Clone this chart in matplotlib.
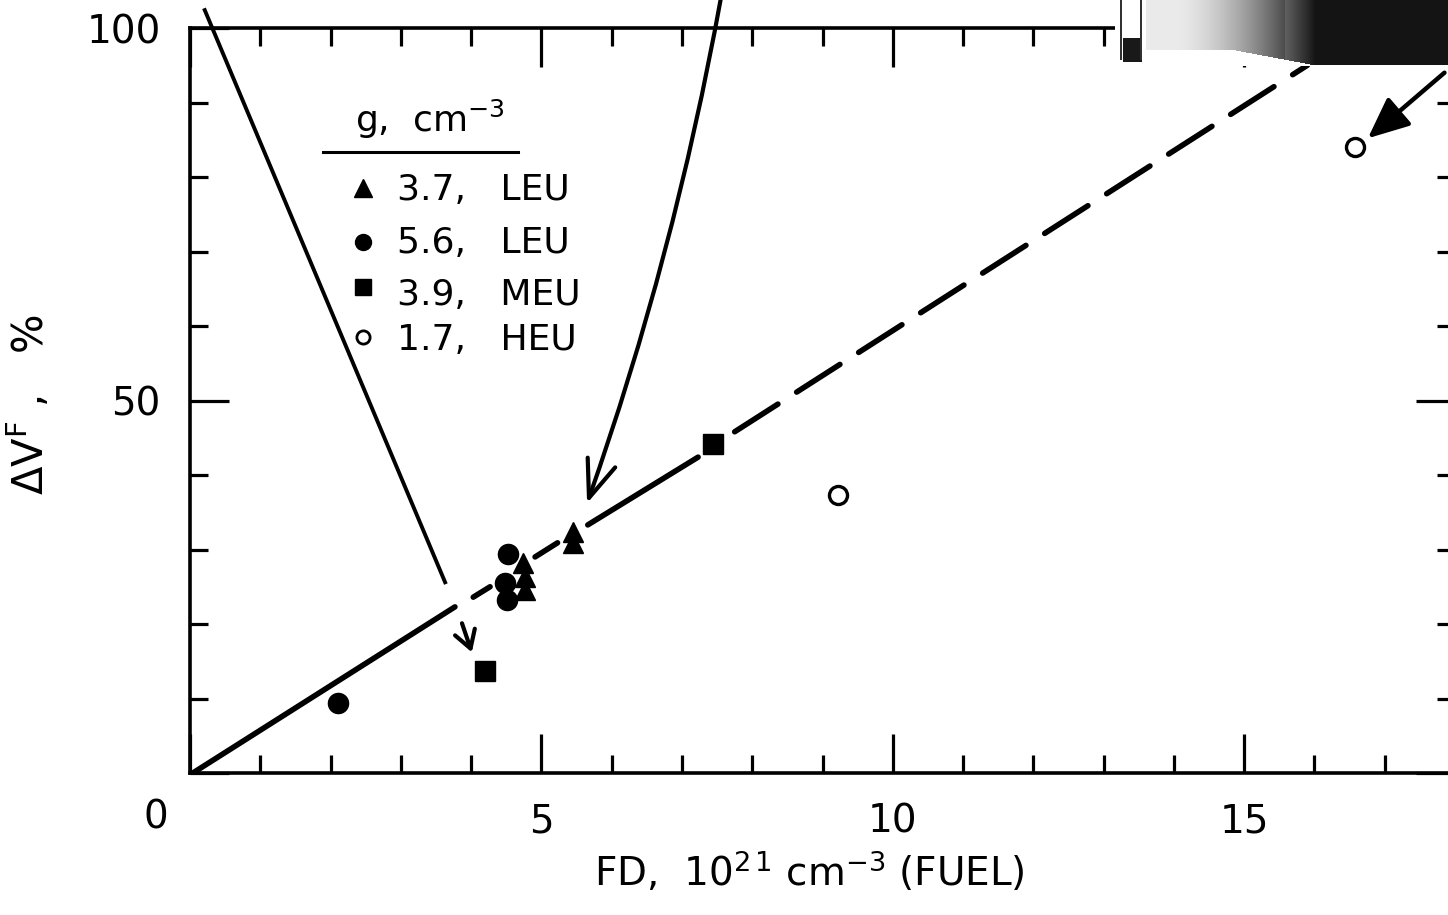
import matplotlib
matplotlib.use("Agg")
import matplotlib.pyplot as plt
import numpy as np
from matplotlib.ticker import MultipleLocator, FuncFormatter

plt.rcParams['font.family'] = 'DejaVu Sans'
plt.rcParams['mathtext.default'] = 'regular'
plt.rcParams['lines.scale_dashes'] = False

# fission density (1e21 cm^-3, fuel) vs fuel swelling dV/V (%)
leu37_fd = [4.74, 4.77, 4.77, 5.45, 5.45]
leu37_dv = [28.2, 26.3, 24.6, 32.3, 30.9]
leu56_fd = [2.11, 4.52, 4.48, 4.51]
leu56_dv = [9.4, 29.4, 25.5, 23.2]
meu39_fd = [4.20, 7.44]
meu39_dv = [13.7, 44.2]
heu17_fd = [9.22, 16.57]
heu17_dv = [37.3, 84.0]

legend_labels = ["3.7,   LEU", "5.6,   LEU", "3.9,   MEU", "1.7,   HEU"]

# trend line, broken where it passes the points: (x0, y0, x1, y1)
fit_solid = [(0.04, 0.0, 3.77, 22.3), (4.03, 23.6, 4.27, 25.0),
             (4.91, 29.0, 5.23, 30.9), (5.66, 33.3, 7.23, 42.4)]
fit_dashed = (7.75, 45.8, 15.9, 95.0)

fig = plt.figure(figsize=(14.48, 9.15), dpi=100)
ax = fig.add_axes([190 / 1448, 142 / 915, 1265 / 1448, 745 / 915])
ax.set_xlim(0, 18)
ax.set_ylim(0, 100)

for x0, y0, x1, y1 in fit_solid:
    ax.plot([x0, x1], [y0, y1], color='k', lw=4, solid_capstyle='round', zorder=2)
x0, y0, x1, y1 = fit_dashed
ax.plot([x0, x1], [y0, y1], color='k', lw=4, dashes=(37, 16),
        dash_capstyle='round', zorder=2)

ax.plot(leu37_fd, leu37_dv, '^', color='k', ms=15, ls='none', zorder=4)
ax.plot(leu56_fd, leu56_dv, 'o', color='k', ms=14.5, ls='none', zorder=4)
ax.plot(meu39_fd, meu39_dv, 's', color='k', ms=14, ls='none', zorder=4)
ax.plot(heu17_fd, heu17_dv, 'o', mfc='white', mec='k', mew=2.4, ms=13,
        ls='none', zorder=4)

# pointer lines
ax.plot([0.21, 3.63], [102.4, 25.6], color='k', lw=2.8, clip_on=False, zorder=3)
ax.annotate('', xy=(4.01, 16.2), xytext=(3.87, 20.1), annotation_clip=False,
            arrowprops=dict(arrowstyle='->,head_length=0.5,head_width=0.3',
                            lw=3, color='k', shrinkA=0, shrinkB=0, mutation_scale=25))
ax.annotate('', xy=(5.65, 36.2), xytext=(7.55, 103.8), annotation_clip=False,
            arrowprops=dict(arrowstyle='->,head_length=0.9,head_width=0.35',
                            lw=3, color='k', shrinkA=0, shrinkB=0, mutation_scale=30,
                            connectionstyle='arc3,rad=-0.04'))
ax.annotate('', xy=(16.76, 85.2), xytext=(17.85, 94.0), annotation_clip=False,
            arrowprops=dict(arrowstyle='-|>,head_length=0.9,head_width=0.4',
                            lw=3.2, color='k', shrinkA=0, shrinkB=0, mutation_scale=28))

# axes styling
for sp in ax.spines.values():
    sp.set_linewidth(2.6)
ax.xaxis.set_major_locator(MultipleLocator(5))
ax.xaxis.set_minor_locator(MultipleLocator(1))
ax.yaxis.set_major_locator(MultipleLocator(50))
ax.yaxis.set_minor_locator(MultipleLocator(10))
ax.tick_params(which='both', direction='in', top=True, right=True, width=2.3)
ax.tick_params(which='major', length=28, labelsize=28)
ax.tick_params(which='minor', length=13)
ax.tick_params(axis='x', pad=21)
ax.tick_params(axis='y', pad=21)
hide_zero = FuncFormatter(lambda v, p: '' if v == 0 else f'{v:g}')
ax.xaxis.set_major_formatter(hide_zero)
ax.yaxis.set_major_formatter(hide_zero)
ax.text(-0.027, -0.06, '0', transform=ax.transAxes, fontsize=28,
        ha='center', va='center')

ax.set_xlabel(r'FD,  10$^{2\,1}$ cm$^{-3}$ (FUEL)', fontsize=28)
ax.xaxis.set_label_coords(0.49, -0.103)
ax.set_ylabel(r'$\Delta$V$^{F}$ ,   %', fontsize=30)
ax.yaxis.set_label_coords(-0.108, 0.495)

# legend drawn by hand under an underlined heading
ax.text(0.1304, 0.860, r'g,  cm$^{-3}$', transform=ax.transAxes, fontsize=26,
        ha='left', va='baseline')
ax.plot([0.105, 0.259], [0.8336, 0.8336], color='k', lw=2.2,
        transform=ax.transAxes, clip_on=False)
leg_marks = [dict(marker='^', color='k', ms=12.5),
             dict(marker='o', color='k', ms=11.5),
             dict(marker='s', color='k', ms=11),
             dict(marker='o', mfc='white', mec='k', mew=2, ms=9.5)]
leg_mark_y = [0.785, 0.713, 0.652, 0.585]
leg_text_y = [0.769, 0.698, 0.628, 0.568]
for lab, mk, my, ty in zip(legend_labels, leg_marks, leg_mark_y, leg_text_y):
    ax.plot([0.1368], [my], ls='none', transform=ax.transAxes, **mk)
    ax.text(0.1636, ty, lab, transform=ax.transAxes, fontsize=26,
            ha='left', va='baseline')

# dark smudge over the top right corner
W, H = 333, 66
cols = np.arange(W)[None, :]
rows = np.arange(H)[:, None]
dark = 0.92 * np.clip((cols - 60) / 140, 0, 1) ** 1.6 + 0.08 * ((cols > 30) & (cols < 170))
edge = 50 + 15 * np.clip((cols - 120) / 80, 0, 1)
dark = np.where(rows < edge, dark, 0)
dark[38:62, 8:27] = 0.9
dark[0:60, 5:7] = 0.8
dark[0:60, 25:27] = 0.8
dark = np.clip(dark, 0, 1)
img = np.repeat((1 - dark)[:, :, None], 3, axis=2)
smudge = fig.add_axes([1115 / 1448, 1 - H / 915, W / 1448, H / 915])
smudge.imshow(img, aspect='auto', interpolation='bilinear')
smudge.axis('off')

fig.savefig('out.png', dpi=100)
